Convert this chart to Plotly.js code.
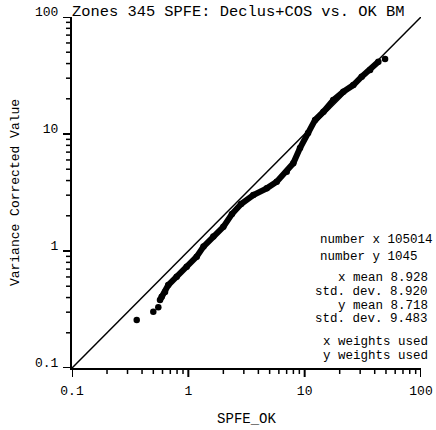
<!DOCTYPE html>
<html>
<head>
<meta charset="utf-8">
<script src="https://cdn.plot.ly/plotly-3.0.1.min.js"></script>
<style>html,body{margin:0;padding:0;background:#fff;}#chart{width:436px;height:430px;}</style>
</head>
<body>
<div id="chart"></div>
<script>
// Q-Q points (x = SPFE_OK quantile, y = Variance Corrected Value quantile)
const qqX = [0.36, 0.50, 0.552, 0.571, 0.59, 0.63, 0.672, 0.794, 0.968, 1.18, 1.35, 1.64, 2.00, 2.37, 2.84, 3.62, 4.72, 5.75, 7.01, 7.98, 9.12, 10.7, 12.3, 14.5, 17.6, 21.5, 26.2, 30.9, 36.5, 43.0, 49.1];
const qqY = [0.257, 0.303, 0.330, 0.381, 0.407, 0.447, 0.512, 0.603, 0.734, 0.894, 1.09, 1.33, 1.61, 2.07, 2.52, 3.01, 3.43, 3.91, 4.76, 5.62, 7.59, 10.2, 13.2, 15.5, 19.5, 23.0, 26.2, 30.9, 35.2, 41.5, 43.8];
const refX = [0.1, 100];
const refY = [0.1, 100];
const majorTicks = [0.1, 1, 10, 100];
const minorTicks = [0.2,0.3,0.4,0.5,0.6,0.7,0.8,0.9,2,3,4,5,6,7,8,9,20,30,40,50,60,70,80,90];
const titleText = 'Zones 345 SPFE: Declus+COS vs. OK BM';
const xTitle = 'SPFE_OK';
const yTitle = 'Variance Corrected Value';
const statsLeft = ['number x 105014', 'number y 1045'];
const statsRight = ['x mean 8.928', 'std. dev. 8.920', 'y mean 8.718', 'std. dev. 9.483', 'x weights used', 'y weights used'];

const FONT = '"Liberation Mono", "DejaVu Sans Mono", monospace';
const W = 436, H = 430;
const L = 72, R = 421, T = 17, B = 368;
const px2x = p => (p - L) / (R - L);
const py2y = p => (B - p) / (B - T);

const bandStart = 3, bandEnd = qqX.length - 1;

const traces = [
  {x: refX, y: refY, mode: 'lines', line: {color: 'black', width: 1.5}, hoverinfo: 'skip'},
  {x: qqX.slice(bandStart, bandEnd), y: qqY.slice(bandStart, bandEnd), mode: 'lines',
   line: {color: 'black', width: 6}, hoverinfo: 'skip'},
  {x: qqX, y: qqY, mode: 'markers', marker: {color: 'black', size: 6.5}}
];

const axisBase = {
  type: 'log', range: [-1, 2], dtick: 1, showgrid: false, zeroline: false,
  showline: true, linecolor: '#000000', linewidth: 2,
  ticks: 'outside', ticklen: 9, tickwidth: 1.5, tickcolor: 'rgba(0,0,0,0)',
  tickfont: {family: FONT, size: 13, color: 'black'}
};

// tick marks placed on the axes' own scales
const shapes = [];
const tick = (v, len, w, isX) => shapes.push(isX ?
  {type: 'line', xref: 'x', yref: 'paper', ysizemode: 'pixel', yanchor: 0, x0: v, x1: v, y0: -1, y1: -1 - len,
   line: {color: 'black', width: w}, layer: 'above'} :
  {type: 'line', yref: 'y', xref: 'paper', xsizemode: 'pixel', xanchor: 0, y0: v, y1: v, x0: -1, x1: -1 - len,
   line: {color: 'black', width: w}, layer: 'above'});
majorTicks.forEach(v => { tick(v, 8, 2, true); tick(v, 8, 2, false); });
minorTicks.forEach(v => { tick(v, 5, 1.5, true); tick(v, 5, 1.5, false); });

const annotations = [];
const leftY = [240, 256.7];
statsLeft.forEach((t, i) => annotations.push({
  text: t, xref: 'paper', yref: 'paper', x: px2x(318), y: py2y(leftY[i]),
  xanchor: 'left', yanchor: 'middle', showarrow: false,
  font: {family: FONT, size: 12.5, color: 'black'}
}));
const rightY = [278.3, 291.7, 306, 319.3, 341.7, 356];
statsRight.forEach((t, i) => annotations.push({
  text: t, xref: 'paper', yref: 'paper', x: px2x(430), y: py2y(rightY[i]),
  xanchor: 'right', yanchor: 'middle', showarrow: false,
  font: {family: FONT, size: 12.5, color: 'black'}
}));

const layout = {
  width: W, height: H,
  margin: {l: L, r: W - R, t: T, b: H - B},
  paper_bgcolor: 'white', plot_bgcolor: 'white',
  showlegend: false,
  title: {text: titleText, xref: 'container', yref: 'container', x: 72 / W, xanchor: 'left',
          y: 1 - 11 / H, yanchor: 'middle', font: {family: FONT, size: 15.4, color: 'black'}},
  xaxis: Object.assign({}, axisBase, {
    title: {text: xTitle, font: {family: FONT, size: 14, color: 'black'}, standoff: 16}
  }),
  yaxis: Object.assign({}, axisBase, {
    ticklabelshift: -6,
    title: {text: yTitle, font: {family: FONT, size: 13, color: 'black'}, standoff: 12}
  }),
  shapes: shapes,
  annotations: annotations
};

Plotly.newPlot('chart', traces, layout, {displayModeBar: false, staticPlot: true});
</script>
</body>
</html>
